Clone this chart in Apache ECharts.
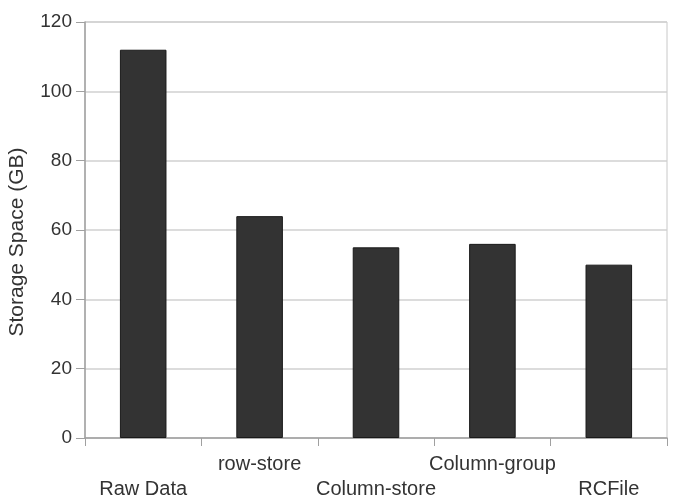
<!DOCTYPE html>
<html lang="en">
<head>
  <meta charset="UTF-8">
  <script src="https://cdn.jsdelivr.net/npm/echarts@6/dist/echarts.min.js"></script>
  <style>
    html, body { margin: 0; padding: 0; background: #fff; }
    #chart { width: 673px; height: 498px; }
  </style>
</head>
<body>
  <div id="chart"></div>
  <script>
    // storage size per format
    const categories = ['Raw Data', 'row-store', 'Column-store', 'Column-group', 'RCFile'];
    const storageGB = [112, 64, 55, 56, 50];
    const yTicks = [0, 20, 40, 60, 80, 100, 120];

    const font = 'Liberation Sans, Arial, sans-serif';
    const chart = echarts.init(document.getElementById('chart'));
    const option = {
      animation: false,
      grid: {
        left: 85, right: 6, top: 22, bottom: 60,
        containLabel: false,
        outerBoundsMode: 'none',
        show: true, borderColor: '#c8c8c8', borderWidth: 1
      },
      xAxis: {
        type: 'category',
        data: categories,
        boundaryGap: true,
        axisLine: { lineStyle: { color: '#a0a0a0', width: 1.5 } },
        axisTick: { show: true, length: 8, lineStyle: { color: '#a0a0a0' } },
        axisLabel: {
          interval: 0,
          color: '#333',
          fontFamily: font,
          fontSize: 20,
          lineHeight: 25,
          margin: 14,
          // stagger labels in two rows
          formatter: (v, i) => i % 2 === 0 ? '\n' + v : v
        }
      },
      yAxis: {
        type: 'value',
        min: yTicks[0],
        max: yTicks[yTicks.length - 1],
        interval: 20,
        name: 'Storage Space (GB)',
        nameLocation: 'middle',
        nameGap: 57,
        nameTextStyle: { color: '#333', fontSize: 21, fontFamily: font, padding: [0, 24, 0, 0] },
        axisLine: { show: true, lineStyle: { color: '#a0a0a0', width: 1.5 } },
        axisTick: { show: true, length: 9, lineStyle: { color: '#a0a0a0' } },
        axisLabel: { color: '#333', fontSize: 19, fontFamily: font, margin: 13 },
        splitLine: { lineStyle: { color: '#d0d0d0', width: 1.5 } }
      },
      series: [{
        type: 'bar',
        data: storageGB,
        barWidth: '40%',
        itemStyle: { color: '#333333', borderColor: '#1a1a1a', borderWidth: 1 }
      }]
    };
    chart.setOption(option);
  </script>
</body>
</html>
